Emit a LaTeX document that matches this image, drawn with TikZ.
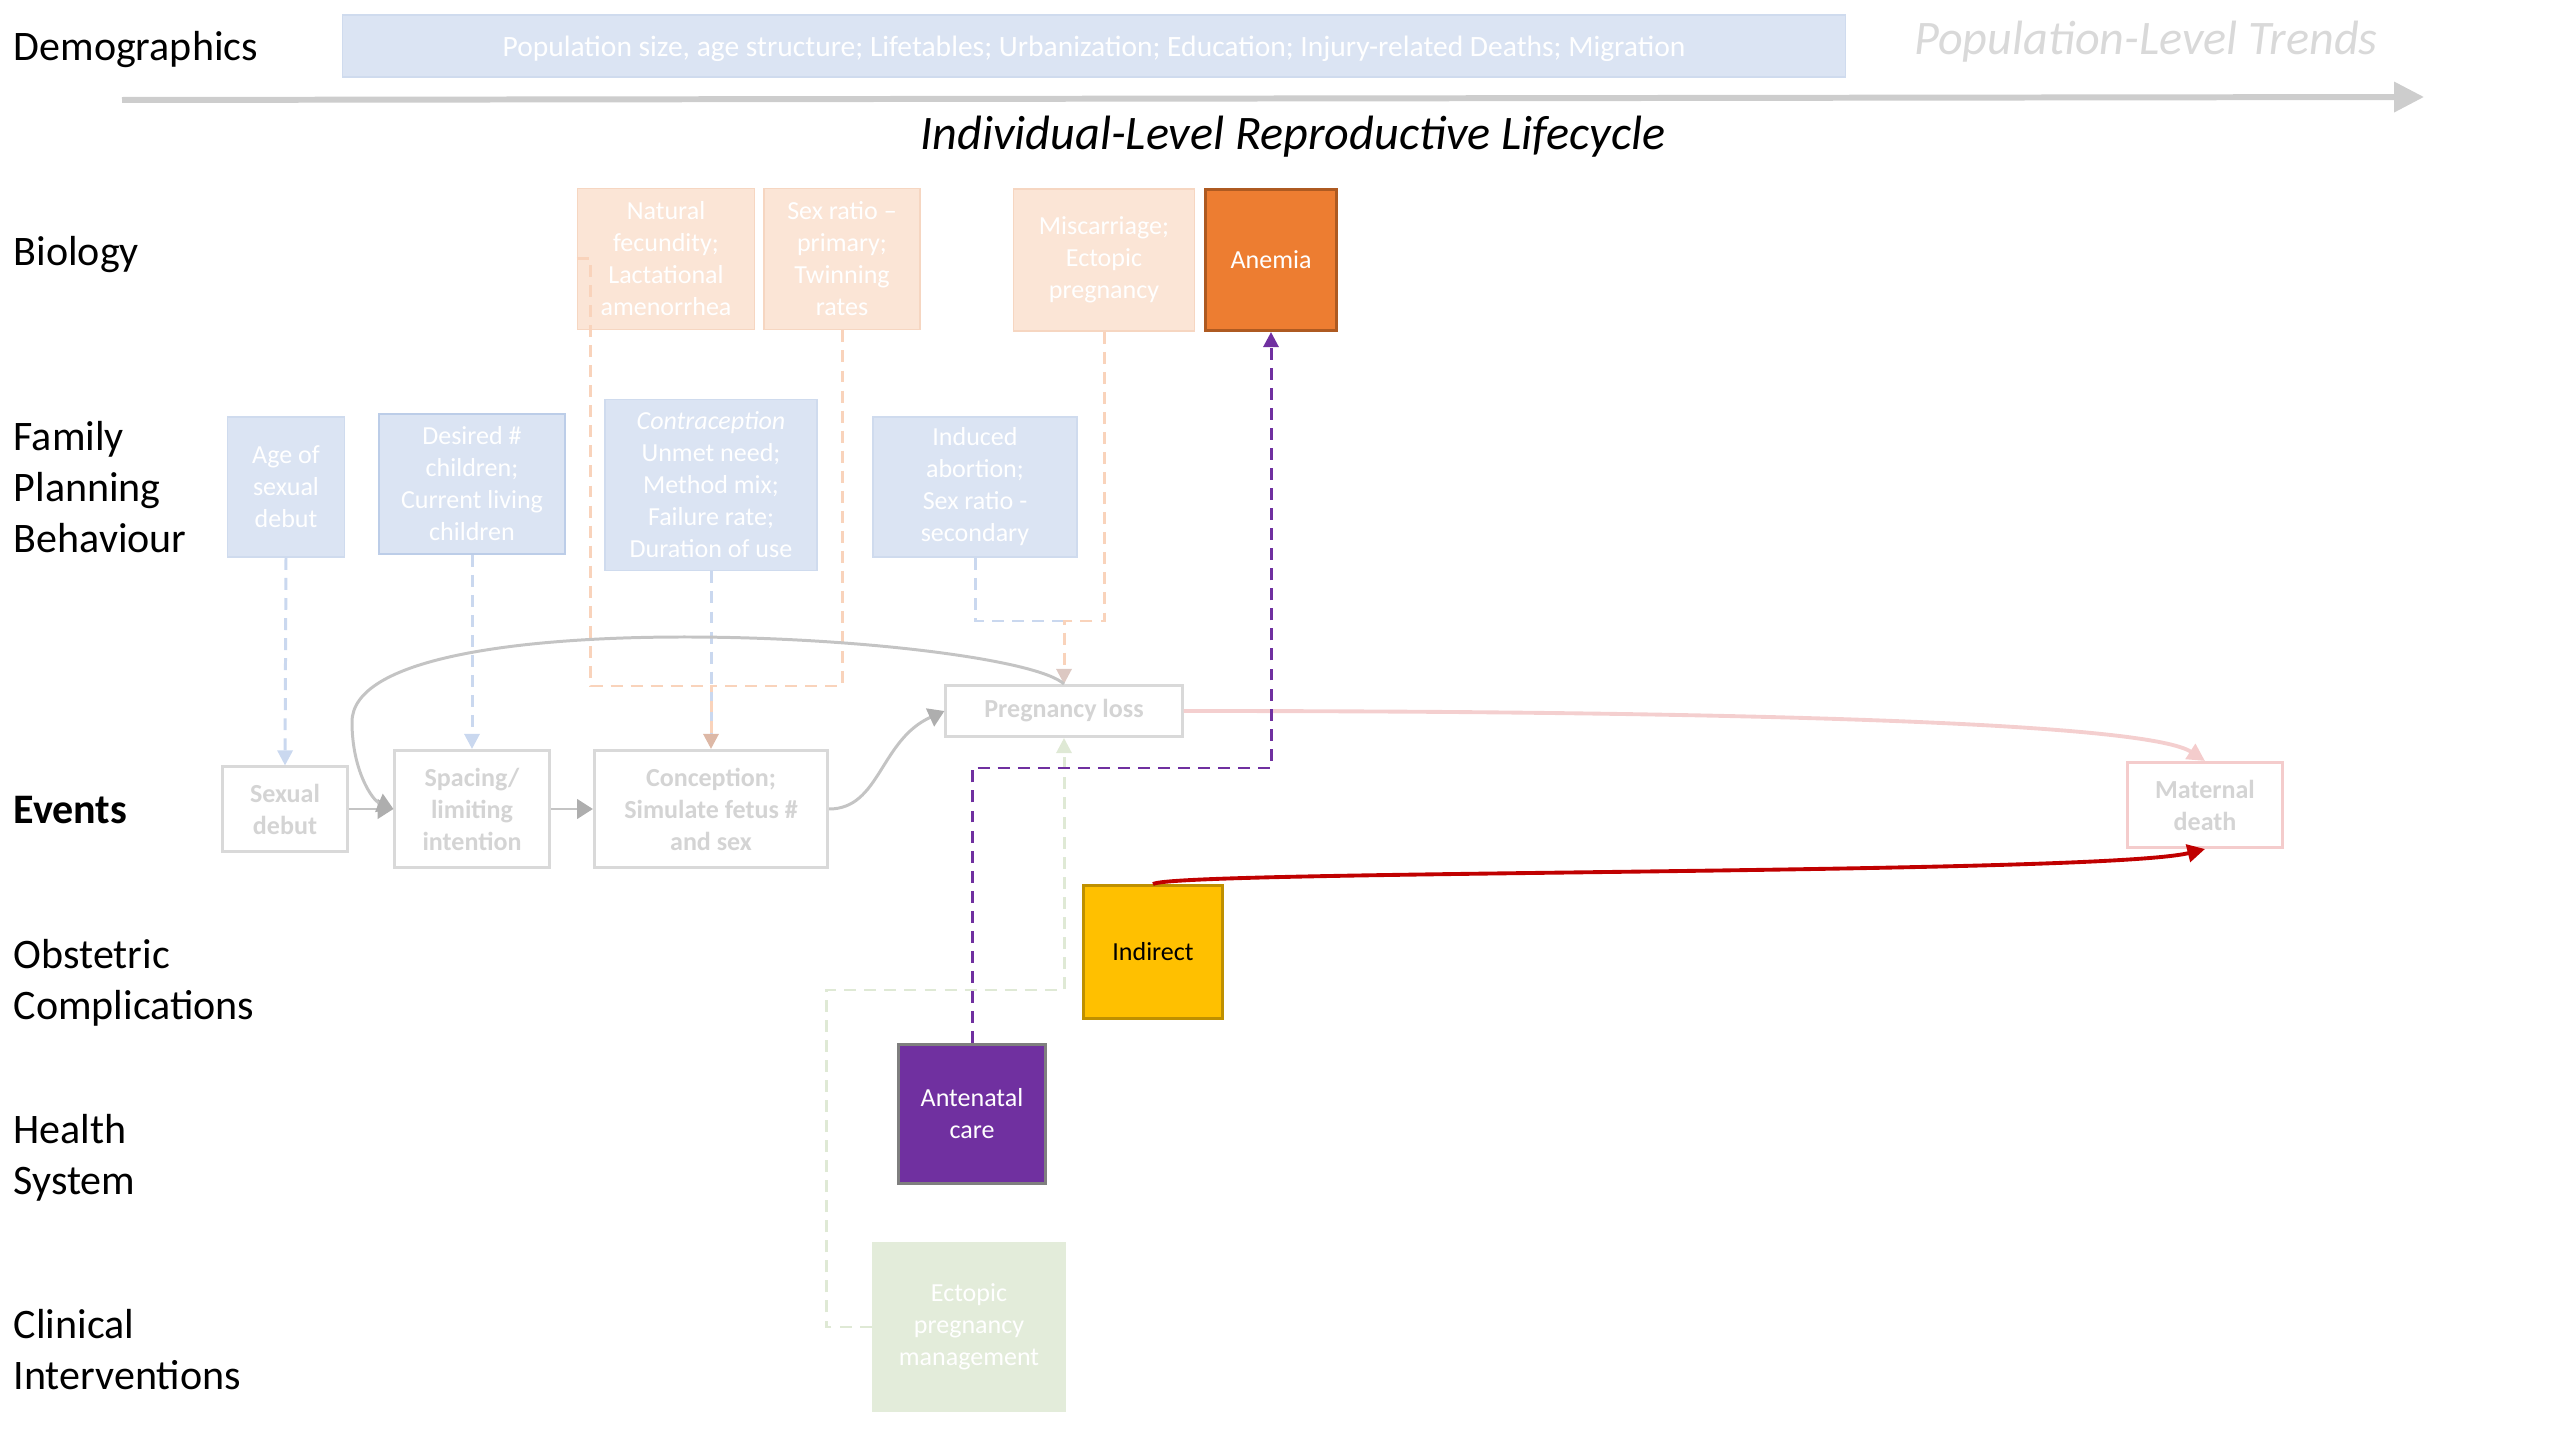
\documentclass[tikz,border=0pt]{standalone}
\usepackage{fontspec}
\setmainfont{Carlito}
\usepackage{xcolor}
\usetikzlibrary{arrows.meta,positioning,calc}

\definecolor{fpfill}{HTML}{DBE4F3}
\definecolor{fpedge}{HTML}{CFDBEE}
\definecolor{fpedgedark}{HTML}{BCCDE8}
\definecolor{fpdash}{HTML}{CAD8EF}
\definecolor{biofill}{HTML}{FBE5D6}
\definecolor{bioedge}{HTML}{F6D6C1}
\definecolor{biodash}{HTML}{F9D3BB}
\definecolor{jointip}{HTML}{DDB8A6}
\definecolor{losstip}{HTML}{DCC8C2}
\definecolor{evedge}{HTML}{D9D9D9}
\definecolor{evtext}{HTML}{D4D4D4}
\definecolor{evline}{HTML}{C4C4C4}
\definecolor{evtip}{HTML}{AEAEAE}
\definecolor{axisgray}{HTML}{CDCDCD}
\definecolor{trendgray}{HTML}{D9D9D9}
\definecolor{mdedge}{HTML}{F4CCCC}
\definecolor{mdline}{HTML}{F4CFCF}
\definecolor{anemiafill}{HTML}{ED7D31}
\definecolor{anemiaedge}{HTML}{AE5A21}
\definecolor{indfill}{HTML}{FFC000}
\definecolor{indedge}{HTML}{BF9000}
\definecolor{ancpurple}{HTML}{7030A0}
\definecolor{ancedge}{HTML}{7F7F7F}
\definecolor{clinfill}{HTML}{E3ECDA}
\definecolor{clindash}{HTML}{DFE9D5}
\definecolor{deepred}{HTML}{C00000}

\begin{document}
\begin{tikzpicture}[x=0.01cm, y=-0.01cm,
    every node/.style={font=\fontsize{7.4}{9.1}\selectfont, align=center, inner sep=0pt},
    rowlabel/.style={font=\fontsize{11.95}{14.5}\selectfont, align=left, anchor=west},
    fpbox/.style={draw=fpedge, fill=fpfill, text=white, line width=0.5pt},
    biobox/.style={draw=bioedge, fill=biofill, text=white, line width=0.5pt},
    eventbox/.style={draw=evedge, fill=white, text=evtext, line width=0.85pt,
        font=\fontsize{7.4}{9.1}\selectfont\bfseries},
    fpline/.style={draw=fpdash, line width=0.85pt, dash pattern=on 3.4pt off 2.3pt},
    bioline/.style={draw=biodash, line width=0.85pt, dash pattern=on 3.4pt off 2.3pt},
    clinline/.style={draw=clindash, line width=0.85pt, dash pattern=on 3.4pt off 2.3pt},
    evarrow/.style={draw=evline, line width=0.85pt,
        -{Triangle[length=4.5pt, width=5.5pt, color=evtip]}}
  ]
  \useasboundingbox (0,0) rectangle (2560,1440);

  % Demographics and the lifecycle axis
  \node[rowlabel] (demoglab) at (13,50) {Demographics};
  \node[draw=fpedge, fill=fpfill, text=white, line width=0.5pt,
        minimum width=15.02cm, minimum height=0.62cm, text depth=0pt,
        font=\fontsize{8.4}{10}\selectfont] (demog) at (1094,46)
        {Population size, age structure; Lifetables; Urbanization; Education; Injury-related Deaths; Migration};
  \node[text=trendgray, font=\fontsize{13.7}{16}\selectfont\itshape] (trend) at (2146,42) {Population-Level Trends};
  \coordinate (axstart) at (122,100);
  \coordinate (axend) at (2424,97);
  \draw[axisgray, line width=1.7pt, -{Triangle[length=8.5pt, width=8.3pt]}] (axstart) -- (axend);
  \node[font=\fontsize{13.7}{16}\selectfont\itshape] (lifecycle) at (1293,137) {Individual-Level Reproductive Lifecycle};

  % Row labels
  \node[rowlabel] (biolab) at (13,255) {Biology};
  \node[rowlabel] (fplab) at (13,487) {Family\\Planning\\Behaviour};
  \node[rowlabel, font=\fontsize{11.95}{14.5}\selectfont\bfseries] (evlab) at (13,810) {Events};
  \node[rowlabel] (obslab) at (13,983) {Obstetric\\Complications};
  \node[rowlabel] (hslab) at (13,1158) {Health\\System};
  \node[rowlabel] (cilab) at (13,1350) {Clinical\\Interventions};

  % Biology
  \node[biobox, minimum width=1.77cm, minimum height=1.41cm] (nat) at (666,259)
        {Natural\\fecundity;\\Lactational\\amenorrhea};
  \node[biobox, minimum width=1.56cm, minimum height=1.41cm] (sexr) at (842,259)
        {Sex ratio --\\primary;\\Twinning\\rates};
  \node[biobox, minimum width=1.81cm, minimum height=1.42cm] (misc) at (1104,260)
        {Miscarriage;\\Ectopic\\pregnancy};
  \node[draw=anemiaedge, fill=anemiafill, text=white, line width=0.85pt,
        minimum width=1.30cm, minimum height=1.41cm] (anemia) at (1271,260) {Anemia};

  % Family planning behaviour
  \node[fpbox, minimum width=1.17cm, minimum height=1.40cm] (age) at (286,487) {Age of\\sexual\\debut};
  \node[fpbox, draw=fpedgedark, minimum width=1.86cm, minimum height=1.40cm] (desired) at (472,484)
        {Desired \#\\children;\\Current living\\children};
  \node[fpbox, minimum width=2.12cm, minimum height=1.71cm] (contra) at (711,485)
        {\textit{Contraception}\\Unmet need;\\Method mix;\\Failure rate;\\Duration of use};
  \node[fpbox, minimum width=2.04cm, minimum height=1.40cm] (induced) at (975,487)
        {Induced\\abortion;\\Sex ratio -\\secondary};

  % Events
  \node[eventbox, minimum width=1.24cm, minimum height=0.84cm] (sexdeb) at (285,809) {Sexual\\debut};
  \node[eventbox, minimum width=1.54cm, minimum height=1.17cm] (spacing) at (472,809) {Spacing/\\limiting\\intention};
  \node[eventbox, minimum width=2.33cm, minimum height=1.17cm] (concep) at (711,809)
        {Conception;\\Simulate fetus \#\\and sex};
  \node[eventbox, minimum width=2.36cm, minimum height=0.51cm] (ploss) at (1064,711) {Pregnancy loss};
  \node[eventbox, draw=mdedge, minimum width=1.55cm, minimum height=0.85cm] (matdeath) at (2205,805)
        {Maternal\\death};

  % Complications, health system, interventions
  \node[draw=indedge, fill=indfill, text=black, line width=0.75pt,
        minimum width=1.39cm, minimum height=1.33cm] (indirect) at (1153,952) {Indirect};
  \node[draw=ancedge, fill=ancpurple, text=white, line width=0.85pt,
        minimum width=1.46cm, minimum height=1.39cm] (antenatal) at (972,1114) {Antenatal\\care};
  \node[draw=clinfill, fill=clinfill, text=white, line width=0.5pt,
        minimum width=1.93cm, minimum height=1.69cm] (ectopic) at (969,1327)
        {Ectopic\\pregnancy\\management};

  % Dashed influences into events
  \coordinate (concjoin) at (711,686);
  \coordinate (lossjoin) at (1064,621);
  \coordinate (ectturn) at (826,990);
  \coordinate (ancturn) at (972,768);
  \draw[fpline, -{Triangle[length=4.3pt, width=4.3pt, color=fpdash]}] (age.south) -- (sexdeb.north);
  \draw[fpline, -{Triangle[length=4.3pt, width=4.3pt, color=fpdash]}] (desired.south) -- (spacing.north);
  \draw[fpline] (contra.south) -- (concep.north);
  \draw[bioline] (nat.west) -- ++(14,0) |- (concjoin);
  \draw[bioline, -{Triangle[length=4.3pt, width=4.3pt, color=jointip]}] (sexr.south) |- (concjoin) -- (concep.north);
  \draw[fpline] (induced.south) |- (lossjoin);
  \draw[bioline, -{Triangle[length=4.3pt, width=4.3pt, color=losstip]}] (misc.south) |- (lossjoin) -- (ploss.north);
  \draw[clinline, -{Triangle[length=4.3pt, width=4.3pt, color=clindash]}] (ectopic.west) -| (ectturn) -| (ploss.south);

  % Event sequence
  \draw[evarrow] (sexdeb.east) -- (spacing.west);
  \draw[evarrow] (spacing.east) -- (concep.west);
  \draw[evarrow] (concep.east) .. controls (880,809) and (880,740) .. (ploss.west);
  \draw[evarrow] (ploss.north) .. controls (1010,635) and (352,595) .. (352,722)
        .. controls (352,770) and (372,800) .. (spacing.west);
  \draw[mdline, line width=1.1pt, -{Triangle[length=5pt, width=5pt, color=mdedge]}]
        (ploss.east) .. controls (1800,711) and (2150,725) .. (matdeath.north);

  % Highlighted pathway
  \draw[ancpurple, line width=0.85pt, dash pattern=on 3.4pt off 2.3pt,
        -{Triangle[length=4.3pt, width=4.3pt]}] (antenatal.north) -- (ancturn) -| (anemia.south);
  \draw[deepred, line width=1.1pt, -{Triangle[length=5pt, width=5pt]}]
        (indirect.north) .. controls (1170,870) and (2100,875) .. (matdeath.south);
\end{tikzpicture}
\end{document}
